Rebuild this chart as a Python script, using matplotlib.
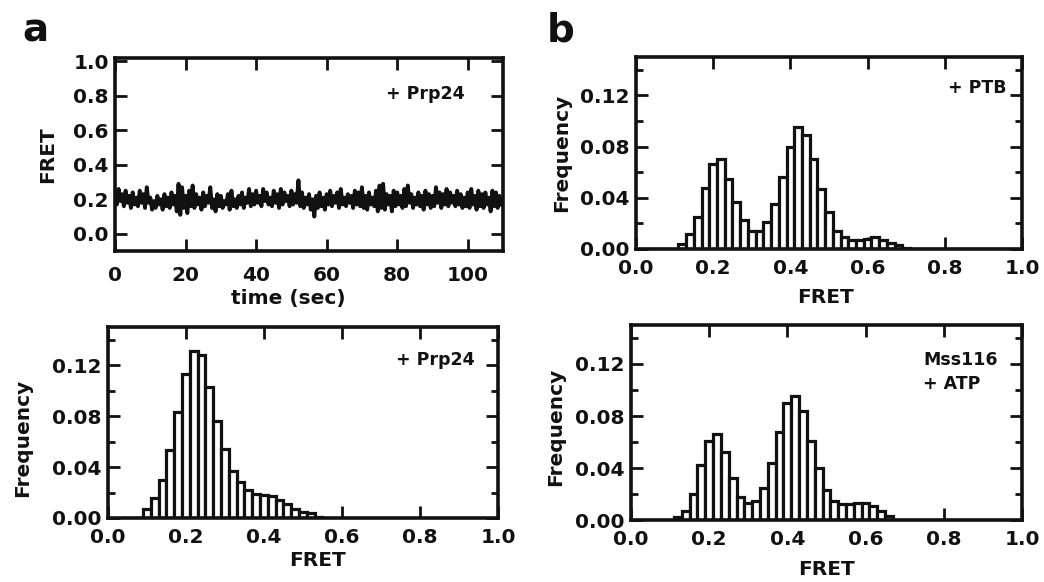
#%%imports
import matplotlib.pyplot as plt
import matplotlib.ticker as mticker
import numpy as np

plt.rcParams["font.family"] = ["DejaVu Sans"]
plt.rcParams["font.weight"] = "bold"

#%%data
#single molecule FRET trace (+ Prp24), sampled every 0.5 sec
trace_dt:float = 0.5
trace_fret = [
    0.24,0.17,0.26,0.19,0.23,0.16,0.25,0.18,0.22,0.15,0.24,0.17,0.21,0.16,0.25,0.18,0.23,0.15,0.27,0.18,
    0.21,0.14,0.19,0.15,0.22,0.17,0.20,0.14,0.23,0.16,0.21,0.15,0.24,0.17,0.22,0.13,0.29,0.11,0.27,0.15,
    0.22,0.12,0.25,0.16,0.28,0.15,0.23,0.17,0.21,0.14,0.24,0.16,0.22,0.18,0.27,0.15,0.20,0.13,0.23,0.16,
    0.22,0.15,0.19,0.17,0.23,0.14,0.25,0.16,0.20,0.15,0.22,0.17,0.24,0.15,0.21,0.18,0.26,0.16,0.23,0.17,
    0.25,0.18,0.22,0.16,0.26,0.19,0.24,0.17,0.21,0.16,0.25,0.18,0.23,0.15,0.26,0.17,0.24,0.19,0.22,0.16,
    0.25,0.17,0.23,0.18,0.31,0.16,0.24,0.15,0.21,0.17,0.23,0.14,0.20,0.10,0.22,0.15,0.24,0.16,0.21,0.14,
    0.23,0.17,0.25,0.16,0.22,0.18,0.24,0.15,0.26,0.17,0.21,0.16,0.23,0.18,0.22,0.15,0.25,0.17,0.24,0.16,
    0.27,0.15,0.22,0.14,0.24,0.17,0.21,0.16,0.25,0.13,0.28,0.15,0.29,0.14,0.23,0.17,0.22,0.13,0.25,0.16,
    0.24,0.17,0.22,0.15,0.26,0.16,0.28,0.18,0.23,0.15,0.21,0.17,0.24,0.16,0.22,0.14,0.25,0.17,0.23,0.15,
    0.22,0.16,0.27,0.18,0.24,0.15,0.23,0.17,0.26,0.16,0.24,0.18,0.22,0.16,0.25,0.17,0.23,0.15,0.21,0.16,
    0.24,0.15,0.26,0.17,0.22,0.14,0.25,0.16,0.23,0.15,0.24,0.17,0.21,0.13,0.25,0.16,0.24,0.15,0.22,0.17,
]

#histograms (bin centers, bin width 0.02)
bin_width:float = 0.02
prp24_bins = [0.10,0.12,0.14,0.16,0.18,0.20,0.22,0.24,0.26,0.28,0.30,0.32,0.34,0.36,0.38,0.40,0.42,0.44,0.46,0.48,0.50,0.52,0.54]
prp24_freq = [0.007,0.016,0.030,0.053,0.083,0.113,0.131,0.128,0.103,0.076,0.054,0.037,0.028,0.022,0.019,0.018,0.017,0.014,0.011,0.007,0.005,0.004,0.001]

ptb_bins = [0.12,0.14,0.16,0.18,0.20,0.22,0.24,0.26,0.28,0.30,0.32,0.34,0.36,0.38,0.40,0.42,0.44,0.46,0.48,0.50,0.52,0.54,0.56,0.58,0.60,0.62,0.64,0.66,0.68,0.70]
ptb_freq = [0.004,0.012,0.025,0.048,0.066,0.070,0.055,0.037,0.023,0.014,0.014,0.021,0.035,0.056,0.080,0.095,0.089,0.070,0.047,0.029,0.014,0.009,0.007,0.007,0.008,0.009,0.007,0.005,0.003,0.001]

mss_bins = [0.12,0.14,0.16,0.18,0.20,0.22,0.24,0.26,0.28,0.30,0.32,0.34,0.36,0.38,0.40,0.42,0.44,0.46,0.48,0.50,0.52,0.54,0.56,0.58,0.60,0.62,0.64,0.66]
mss_freq = [0.002,0.007,0.020,0.042,0.061,0.066,0.052,0.032,0.018,0.013,0.015,0.025,0.044,0.068,0.090,0.095,0.084,0.061,0.040,0.023,0.015,0.012,0.012,0.013,0.013,0.011,0.007,0.003]

#%%definitions
INK = "#111111"
FS_TICK = 14.5
FS_NOTE = 12.5

def style_axes(ax:plt.Axes, xpad:float=7.5):
    """
        - thick box, inward ticks on all four sides
    """
    for sp in ax.spines.values():
        sp.set_linewidth(2.6)
        sp.set_color(INK)
    ax.tick_params(which="both", direction="in", top=True, right=True, width=2.0, color=INK,
                   labelsize=FS_TICK, labelcolor=INK)
    ax.tick_params(which="major", length=8.5)
    ax.tick_params(which="minor", length=5)
    ax.tick_params(axis="x", pad=xpad)
    ax.tick_params(axis="y", pad=4.5)
    for lab in ax.get_xticklabels() + ax.get_yticklabels():
        lab.set_fontweight("bold")
    return

def plot_hist(ax:plt.Axes, bins, freq, note:str, note_xy, ha:str="right",
    ylab_xy=(-0.2, 0.5), xlab_xy=(0.5, -0.25),
    ):
    """
        - open bars histogram of FRET values
    """
    ax.bar(bins, freq, width=bin_width, color="white", edgecolor=INK, linewidth=2.3, zorder=2)
    ax.set_xlim(0, 1.0)
    ax.set_ylim(0, 0.15)
    ax.set_xticks(np.arange(0, 1.01, 0.2))
    ax.xaxis.set_major_formatter(mticker.FormatStrFormatter("%.1f"))
    ax.set_yticks([0, 0.04, 0.08, 0.12])
    ax.yaxis.set_major_formatter(mticker.FormatStrFormatter("%.2f"))
    ax.set_yticks([0.02, 0.06, 0.10, 0.14], minor=True)
    style_axes(ax)
    ax.set_xlabel("FRET", fontsize=FS_TICK, fontweight="bold", color=INK, va="center")
    ax.set_ylabel("Frequency", fontsize=FS_TICK, fontweight="bold", color=INK, va="center")
    ax.xaxis.set_label_coords(*xlab_xy)
    ax.yaxis.set_label_coords(*ylab_xy)
    ax.text(note_xy[0], note_xy[1], note, transform=ax.transAxes, ha=ha, va="center",
            fontsize=FS_NOTE, fontweight="bold", color=INK, linespacing=1.45)
    return

#%%main
def main():
    fig = plt.figure(figsize=(10.44, 5.82), dpi=100)

    ax_tr  = fig.add_axes([0.1102, 0.5687, 0.3716, 0.3316])
    ax_ha  = fig.add_axes([0.1034, 0.1100, 0.3736, 0.3282])
    ax_hb1 = fig.add_axes([0.6092, 0.5722, 0.3697, 0.3299])
    ax_hb2 = fig.add_axes([0.6044, 0.1065, 0.3745, 0.3351])

    #trace
    time = np.arange(len(trace_fret))*trace_dt
    ax_tr.plot(time, trace_fret, color=INK, lw=2.8)
    ax_tr.set_xlim(0, 110)
    ax_tr.set_ylim(-0.1, 1.02)
    ax_tr.set_xticks([0, 20, 40, 60, 80, 100])
    ax_tr.set_yticks(np.arange(0, 1.01, 0.2))
    ax_tr.yaxis.set_major_formatter(mticker.FormatStrFormatter("%.1f"))
    style_axes(ax_tr, xpad=11)
    ax_tr.set_xlabel("time (sec)", fontsize=FS_TICK, fontweight="bold", color=INK, va="center")
    ax_tr.set_ylabel("FRET", fontsize=FS_TICK, fontweight="bold", color=INK, va="center")
    ax_tr.xaxis.set_label_coords(0.446, -0.244)
    ax_tr.yaxis.set_label_coords(-0.175, 0.5)
    ax_tr.text(0.902, 0.813, "+ Prp24", transform=ax_tr.transAxes, ha="right", va="center",
               fontsize=FS_NOTE, fontweight="bold", color=INK)

    #histograms
    plot_hist(ax_ha, prp24_bins, prp24_freq, "+ Prp24", (0.941, 0.827),
              ylab_xy=(-0.218, 0.42), xlab_xy=(0.538, -0.225))
    plot_hist(ax_hb1, ptb_bins, ptb_freq, "+ PTB", (0.961, 0.839),
              ylab_xy=(-0.194, 0.5), xlab_xy=(0.49, -0.255))
    plot_hist(ax_hb2, mss_bins, mss_freq, "Mss116\n+ ATP", (0.747, 0.76), ha="left",
              ylab_xy=(-0.192, 0.48), xlab_xy=(0.499, -0.256))

    #panel letters
    fig.text(22/1044, 1 - 42/582, "a", fontsize=28, fontweight="bold", color=INK, va="baseline")
    fig.text(547/1044, 1 - 42/582, "b", fontsize=28, fontweight="bold", color=INK, va="baseline")

    fig.savefig("out.png", dpi=100, facecolor="white")
    return

if __name__ == "__main__":
    main()
